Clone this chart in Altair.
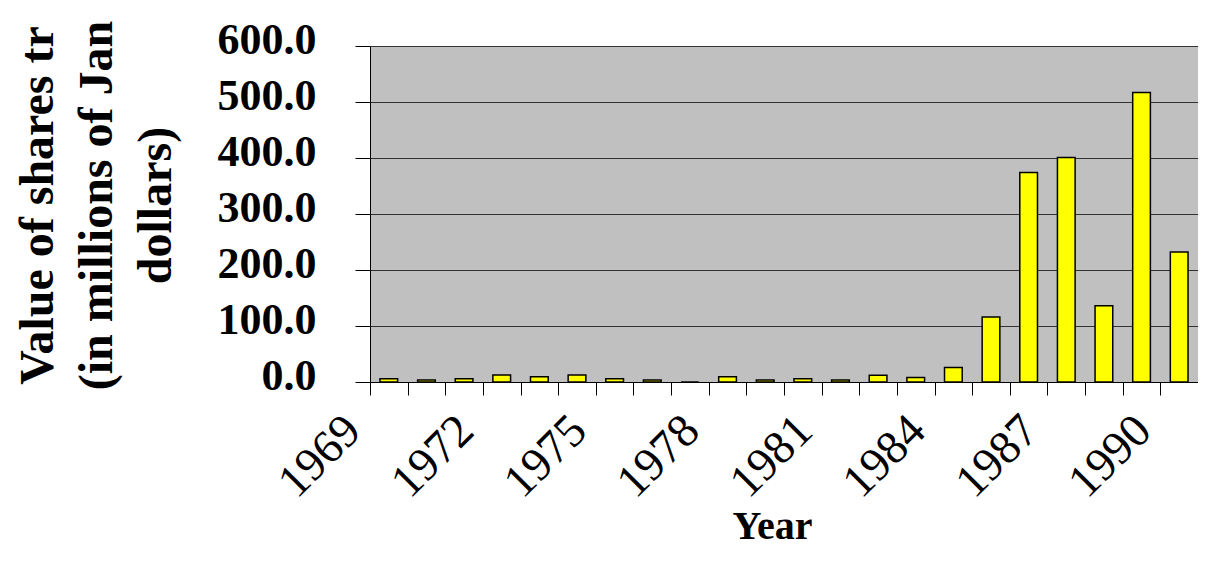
import altair as alt
import pandas as pd

years = list(range(1969, 1991))
values = [6, 3.5, 6, 12.5, 9.5, 12.5, 6, 3.5, 0, 9.5, 3.5, 6, 3.5, 12, 8, 26,
          116, 374, 401, 136, 517, 232]
y_ticks = [0, 100, 200, 300, 400, 500, 600]
x_label_years = [1969, 1972, 1975, 1978, 1981, 1984, 1987, 1990]
y_title_lines = ["Value of shares tr", "(in millions of Jan", "dollars)"]
x_title = "Year"

df = pd.DataFrame({"Year": years, "Value": values})

label_expr = "indexof([" + ",".join(str(v) for v in x_label_years) + "], datum.value) >= 0 ? datum.label : ''"

FONT = "Liberation Serif"

chart = alt.Chart(df).mark_bar(
    fill="#FFFF00", stroke="#000000", strokeWidth=1.5,
    width=alt.RelativeBandSize(0.47),
).encode(
    x=alt.X(
        "Year:O",
        scale=alt.Scale(paddingInner=0, paddingOuter=0),
        axis=alt.Axis(
            title=x_title,
            labelExpr=label_expr,
            labelAngle=-45,
            labelAlign="right",
            labelBaseline="middle",
            labelFont=FONT,
            labelFontSize=47,
            labelColor="#000000",
            labelOffset=-36,
            labelPadding=28,
            labelOverlap=False,
            labelFlush=False,
            tickBand="extent",
            tickSize=13,
            tickColor="#000000",
            tickWidth=1,
            domainColor="#000000",
            domainWidth=1,
            grid=False,
            titleFont=FONT,
            titleFontWeight="bold",
            titleFontSize=40,
            titleColor="#000000",
            titleX=402,
            titleY=156,
            titleBaseline="alphabetic",
            titleAlign="center",
        ),
    ),
    y=alt.Y(
        "Value:Q",
        scale=alt.Scale(domain=[0, 600], nice=False),
        axis=alt.Axis(
            values=y_ticks,
            format=".1f",
            labelFont=FONT,
            labelFontWeight="bold",
            labelFontSize=44,
            labelColor="#000000",
            labelPadding=39,
            labelBaseline="middle",
            labelOffset=-6,
            tickSize=15,
            tickColor="#000000",
            tickWidth=1,
            domainColor="#000000",
            domainWidth=1,
            grid=True,
            gridColor="#333333",
            gridWidth=1,
            title=y_title_lines,
            titleFont=FONT,
            titleFontWeight="bold",
            titleFontSize=48,
            titleLineHeight=59,
            titleColor="#000000",
            titleAngle=270,
            titleX=-318,
            titleY=159,
            titleBaseline="alphabetic",
            titleAlign="center",
        ),
    ),
).properties(
    width=828,
    height=336,
    autosize=alt.AutoSizeParams(type="none"),
    padding={"left": 362, "top": 38, "right": 0, "bottom": 166},
    background="#FFFFFF",
).configure_view(
    fill="#C0C0C0", stroke="transparent", strokeWidth=0
)

chart.save("out.html", embed_options={"renderer": "svg", "actions": False})
